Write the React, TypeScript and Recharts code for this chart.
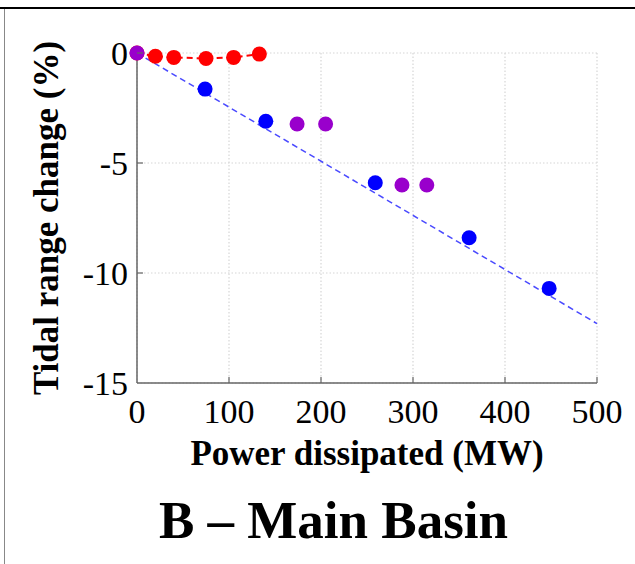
import React from "react";
import {
    ScatterChart, Scatter, XAxis, YAxis, CartesianGrid, Label,
} from "recharts";

// Power dissipated (MW) vs tidal range change (%)
const redX = [0, 20, 40, 75, 105, 133];
const redY = [0, -0.15, -0.2, -0.25, -0.2, -0.05];
const blueX = [74, 140, 259, 361, 448];
const blueY = [-1.64, -3.1, -5.9, -8.4, -10.7];
const purpleX = [0, 174, 205, 288, 315];
const purpleY = [0, -3.23, -3.23, -6.0, -6.0];
const fitX = [0, 500];
const fitY = [0, -12.3];
const xTicks = [0, 100, 200, 300, 400, 500];
const yTicks = [-15, -10, -5, 0];

const toPoints = (xs: number[], ys: number[]) => xs.map((x, i) => ({ x, y: ys[i] }));

const FONT = "'Liberation Serif', 'Times New Roman', serif";
const AXIS_COLOR = "#666";

/** x tick: label below, small inward tick above the axis. */
const XTick = (props: any) => {
    const { x, y, payload } = props;
    const axisY = y - 16;
    return (
        <g>
            {payload.value !== 0 && (
                <line x1={x} x2={x} y1={axisY} y2={axisY - 6} stroke={AXIS_COLOR} strokeWidth={1.2} />
            )}
            <text x={x} y={y + 24} textAnchor="middle" fontFamily={FONT} fontSize={34} fill="#000">
                {payload.value}
            </text>
        </g>
    );
};

/** y tick: label left, small inward tick to the right of the axis. */
const YTick = (props: any) => {
    const { x, y, payload } = props;
    const axisX = x + 9;
    return (
        <g>
            {payload.value !== -15 && (
                <line x1={axisX} x2={axisX + 6} y1={y} y2={y} stroke={AXIS_COLOR} strokeWidth={1.2} />
            )}
            <text x={x} y={y + 12} textAnchor="end" fontFamily={FONT} fontSize={34} fill="#000">
                {payload.value}
            </text>
        </g>
    );
};

const App: React.FC = () => {
    return (
        <div style={{ position: "absolute", left: 0, top: 0, width: 635, height: 564, background: "#fff", overflow: "hidden" }}>
            {/* frame of the panel */}
            <div style={{ position: "absolute", left: 0, top: 7, width: 635, height: 0, borderTop: "2.5px solid #000" }} />
            <div style={{ position: "absolute", left: 4, top: 9, width: 0, height: 560, borderLeft: "1.5px solid #888" }} />

            <ScatterChart
                width={635}
                height={564}
                margin={{ top: 53, right: 38, left: 0, bottom: 96 }}
                style={{ position: "absolute", left: 0, top: 0 }}
            >
                <CartesianGrid stroke="#d6d6d6" strokeDasharray="1.5 2" strokeWidth={1.2} />
                <XAxis
                    type="number"
                    dataKey="x"
                    domain={[0, 500]}
                    ticks={xTicks}
                    height={85}
                    tickSize={0}
                    tickMargin={16}
                    tickLine={false}
                    tick={<XTick />}
                    stroke={AXIS_COLOR}
                    strokeWidth={1.5}
                >
                    <Label
                        value="Power dissipated (MW)"
                        position="insideBottom"
                        offset={3}
                        style={{ fontFamily: FONT, fontSize: 35, fontWeight: "bold", fill: "#000" }}
                    />
                </XAxis>
                <YAxis
                    type="number"
                    dataKey="y"
                    domain={[-15, 0]}
                    ticks={yTicks}
                    width={137}
                    tickSize={0}
                    tickMargin={9}
                    tickLine={false}
                    tick={<YTick />}
                    stroke={AXIS_COLOR}
                    strokeWidth={1.5}
                >
                    <Label
                        value="Tidal range change (%)"
                        angle={-90}
                        position="insideLeft"
                        offset={46}
                        style={{ fontFamily: FONT, fontSize: 35, fontWeight: "bold", fill: "#000", textAnchor: "middle" }}
                    />
                </YAxis>
                <Scatter
                    data={toPoints(fitX, fitY)}
                    line={{ stroke: "#4a4aff", strokeWidth: 1.5, strokeDasharray: "6 4" }}
                    shape={() => null}
                    isAnimationActive={false}
                />
                <Scatter
                    data={toPoints(redX, redY)}
                    fill="#ff0000"
                    line={{ stroke: "#ff0000", strokeWidth: 2, strokeDasharray: "6 4" }}
                    shape={(p: any) => <circle cx={p.cx} cy={p.cy} r={7.5} fill="#ff0000" />}
                    isAnimationActive={false}
                />
                <Scatter
                    data={toPoints(blueX, blueY)}
                    fill="#0000ff"
                    shape={(p: any) => <circle cx={p.cx} cy={p.cy} r={7.5} fill="#0000ff" />}
                    isAnimationActive={false}
                />
                <Scatter
                    data={toPoints(purpleX, purpleY)}
                    fill="#9900cc"
                    shape={(p: any) => <circle cx={p.cx} cy={p.cy} r={7.5} fill="#9900cc" />}
                    isAnimationActive={false}
                />
            </ScatterChart>

            <div
                style={{
                    position: "absolute", left: 0, top: 494, width: 667, textAlign: "center",
                    fontFamily: FONT, fontSize: 53, fontWeight: "bold", lineHeight: "53px", color: "#000",
                    whiteSpace: "nowrap",
                }}
            >
                B – Main Basin
            </div>
        </div>
    );
};

export default App;
